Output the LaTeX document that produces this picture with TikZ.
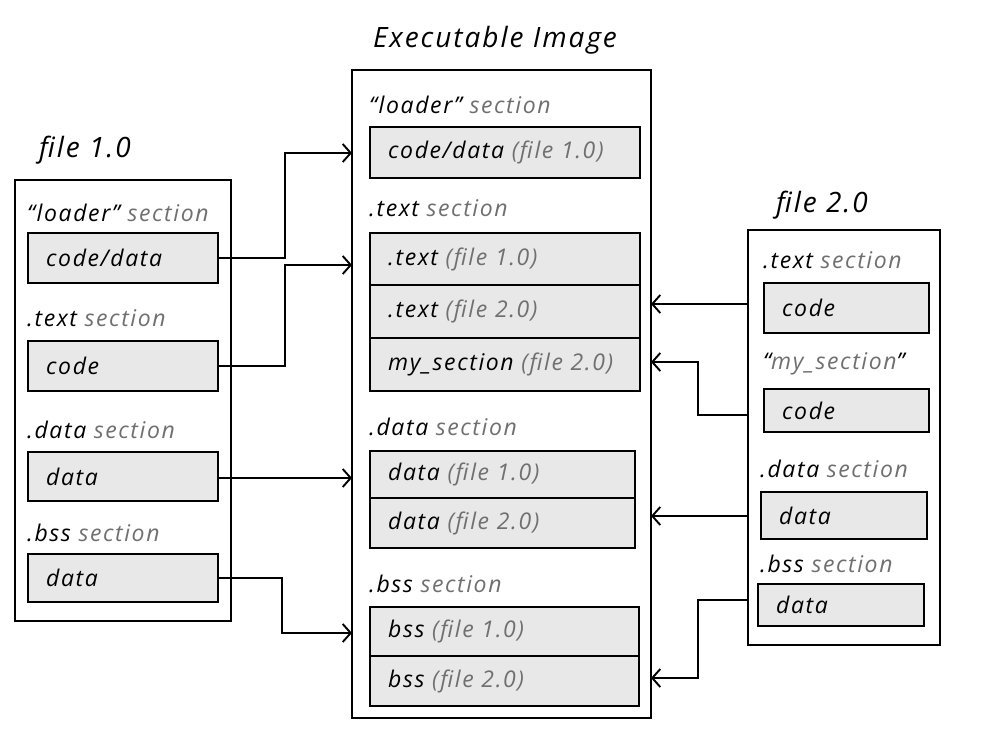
\documentclass[tikz,border=0pt]{standalone}
\usepackage{fontspec}
\setmainfont{Open Sans}[LetterSpace=7]
\usetikzlibrary{arrows.meta}
\definecolor{boxfill}{HTML}{E8E8E8}
\definecolor{lbl}{HTML}{707070}
\newcommand{\gr}[1]{\textcolor{lbl}{#1}}
\begin{document}
\begin{tikzpicture}[x=1pt,y=-1pt,
  every node/.style={font=\itshape\fontsize{23}{26}\selectfont},
  outer/.style={draw=black, line width=2.4pt, fill=white},
  ibox/.style={draw=black, line width=2.4pt, fill=boxfill, anchor=north west,
     inner xsep=18pt, inner ysep=0pt, align=left},
  seclbl/.style={anchor=west, inner sep=0pt},
  ttl/.style={font=\itshape\fontsize{28}{31}\selectfont, inner sep=0pt},
  conn/.style={line width=1.9pt, -{Straight Barb[length=8pt,width=18pt,line width=1.9pt]}}
]
\useasboundingbox (0,0) rectangle (1002,745);
\fill[white] (0,0) rectangle (1002,745);

% ---------------- left: file 1.0
\node[ttl] (t1) at (85,150) {file 1.0};
\draw[outer] (15,180) rectangle (231,621);
\node[seclbl] (l1s1) at (27,213) {“loader” \gr{section}};
\node[ibox, minimum width=190pt, minimum height=50pt, text width=154pt] (a1) at (27,232) {code/data};
\node[seclbl] (l1s2) at (27,318) {.text \gr{section}};
\node[ibox, minimum width=190pt, minimum height=50pt, text width=154pt] (a2) at (27,340) {code};
\node[seclbl] (l1s3) at (27,430) {.data \gr{section}};
\node[ibox, minimum width=190pt, minimum height=49pt, text width=154pt] (a3) at (27,451) {data};
\node[seclbl] (l1s4) at (27,533) {.bss \gr{section}};
\node[ibox, minimum width=190pt, minimum height=48pt, text width=154pt] (a4) at (27,553) {data};

% ---------------- center: executable image
\node[ttl] (t0) at (495,40) {Executable Image};
\draw[outer] (352,70) rectangle (651,718);
\node[seclbl] (c1s1) at (369,105) {“loader” \gr{section}};
\node[ibox, minimum width=270pt, minimum height=51pt, text width=234pt] (e1) at (369,126) {code/data \gr{(file 1.0)}};
\node[seclbl] (c1s2) at (369,208) {.text \gr{section}};
\node[ibox, minimum width=270pt, minimum height=52pt, text width=234pt] (e2) at (369,232) {.text \gr{(file 1.0)}};
\node[ibox, minimum width=270pt, minimum height=53pt, text width=234pt] (e3) at (369,284) {.text \gr{(file 2.0)}};
\node[ibox, minimum width=270pt, minimum height=53pt, text width=234pt] (e4) at (369,337) {my\_section \gr{(file 2.0)}};
\node[seclbl] (c1s3) at (369,427) {.data \gr{section}};
\node[ibox, minimum width=265pt, minimum height=47pt, text width=229pt] (e5) at (369,450) {data \gr{(file 1.0)}};
\node[ibox, minimum width=265pt, minimum height=50pt, text width=229pt] (e6) at (369,497) {data \gr{(file 2.0)}};
\node[seclbl] (c1s4) at (369,584) {.bss \gr{section}};
\node[ibox, minimum width=269pt, minimum height=49pt, text width=233pt] (e7) at (369,606) {bss \gr{(file 1.0)}};
\node[ibox, minimum width=269pt, minimum height=50pt, text width=233pt] (e8) at (369,655) {bss \gr{(file 2.0)}};

% ---------------- right: file 2.0
\node[ttl] (t2) at (822,205) {file 2.0};
\draw[outer] (748,230) rectangle (940,645);
\node[seclbl] (r1s1) at (763,260) {.text \gr{section}};
\node[ibox, minimum width=165pt, minimum height=50pt, text width=129pt] (b1) at (763,282) {code};
\node[seclbl] (r1s2) at (763,364) {“\gr{my\_section}”};
\node[ibox, minimum width=165pt, minimum height=43pt, text width=129pt] (b2) at (763,388) {code};
\node[seclbl] (r1s3) at (760,469) {.data \gr{section}};
\node[ibox, minimum width=166pt, minimum height=47pt, text width=130pt] (b3) at (760,491) {data};
\node[seclbl] (r1s4) at (760,564) {.bss \gr{section}};
\node[ibox, minimum width=166pt, minimum height=42pt, text width=130pt] (b4) at (757,583) {data};

% ---------------- connector end points on the outer frames
\coordinate (L1) at (352,153);
\coordinate (L2) at (352,265);
\coordinate (L3) at (352,478);
\coordinate (L4) at (352,633);
\coordinate (R1) at (651,304);
\coordinate (R2) at (651,362);
\coordinate (R3) at (651,516);
\coordinate (R4) at (651,678);
\coordinate (S1) at (748,304);
\coordinate (S2) at (748,415);
\coordinate (S3) at (748,516);
\coordinate (S4) at (748,600);

\draw[conn] (a1.east) -| (285,153) -- (L1);
\draw[conn] (a2.east) -| (285,265) -- (L2);
\draw[conn] (a3.east |- L3) -- (L3);
\draw[conn] (a4.east) -| (282,633) -- (L4);

\draw[conn] (S1) -- (R1);
\draw[conn] (S2) -| (698,362) -- (R2);
\draw[conn] (S3) -- (R3);
\draw[conn] (S4) -| (698,678) -- (R4);
\end{tikzpicture}
\end{document}
